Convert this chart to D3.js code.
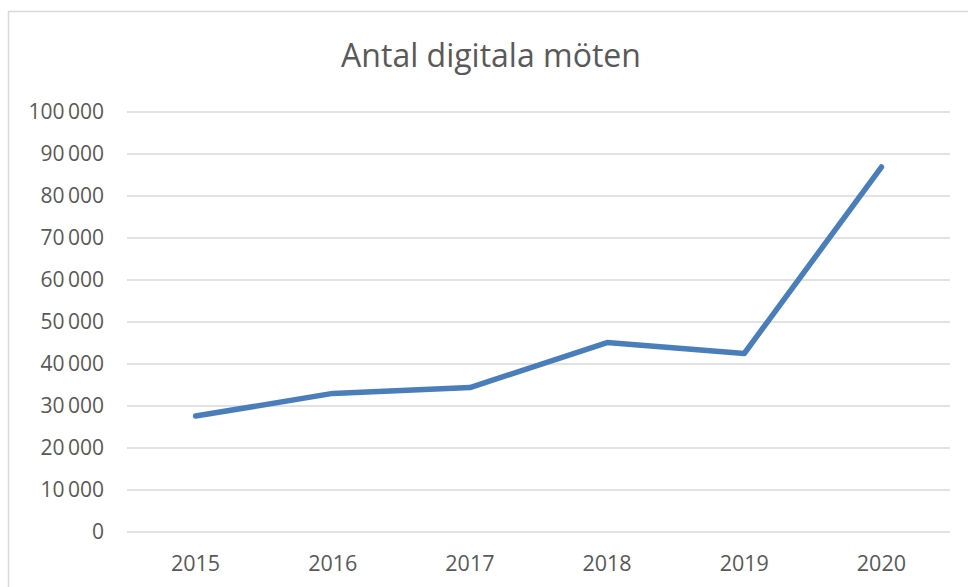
<!DOCTYPE html>
<html>
<head>
<meta charset="utf-8">
<script src="https://cdn.jsdelivr.net/npm/d3@7"></script>
<style>
  body { margin: 0; background: #fff; }
  svg { display: block; }
</style>
</head>
<body>
<script>
const years = ["2015", "2016", "2017", "2018", "2019", "2020"];
const meetings = [27600, 33000, 34400, 45100, 42500, 86900];
const yTicks = [0, 10000, 20000, 30000, 40000, 50000, 60000, 70000, 80000, 90000, 100000];
const title = "Antal digitala möten";

const W = 968, H = 587;
const font = "'Open Sans', 'Noto Sans', sans-serif";
const fmt = (v) => d3.format(",")(v).replace(/,/g, "\u2009");

const main = () => {
  const svg = d3.select("body").append("svg").attr("width", W).attr("height", H);

  // chart frame (right/bottom run past the window)
  svg.append("rect")
    .attr("x", 8.5).attr("y", 11.5)
    .attr("width", W + 20).attr("height", H + 20)
    .attr("fill", "#fff")
    .attr("stroke", "#d9d9d9")
    .attr("stroke-width", 1.5);

  const x = d3.scaleBand().domain(years).range([127, 950]);
  const y = d3.scaleLinear().domain([0, 100000]).range([532, 112]);

  svg.append("text")
    .attr("x", 491).attr("y", 67)
    .attr("text-anchor", "middle")
    .attr("font-family", font)
    .attr("font-size", 32)
    .attr("fill", "#595959")
    .text(title);

  // gridlines
  svg.append("g")
    .attr("stroke", "#d9d9d9")
    .attr("stroke-width", 1.5)
    .selectAll("line")
    .data(yTicks)
    .join("line")
    .attr("x1", 127).attr("x2", 950)
    .attr("y1", (d) => y(d)).attr("y2", (d) => y(d));

  const yAxis = svg.append("g")
    .attr("transform", "translate(104,0)")
    .call(d3.axisLeft(y).tickValues(yTicks).tickFormat(fmt).tickSize(0).tickPadding(0));
  yAxis.select(".domain").remove();
  yAxis.selectAll("text")
    .attr("font-family", font)
    .attr("font-size", 21)
    .attr("fill", "#595959");

  const xAxis = svg.append("g")
    .attr("transform", "translate(0,532)")
    .call(d3.axisBottom(x).tickSize(0).tickPadding(24));
  xAxis.select(".domain").remove();
  xAxis.selectAll("text")
    .attr("font-family", font)
    .attr("font-size", 21.5)
    .attr("fill", "#595959");

  const line = d3.line()
    .x((d, i) => x(years[i]) + x.bandwidth() / 2)
    .y((d) => y(d));

  svg.append("path")
    .datum(meetings)
    .attr("fill", "none")
    .attr("stroke", "#4a7ebb")
    .attr("stroke-width", 5.5)
    .attr("stroke-linejoin", "round")
    .attr("stroke-linecap", "round")
    .attr("d", line);
};

document.addEventListener("DOMContentLoaded", main);
</script>
</body>
</html>
